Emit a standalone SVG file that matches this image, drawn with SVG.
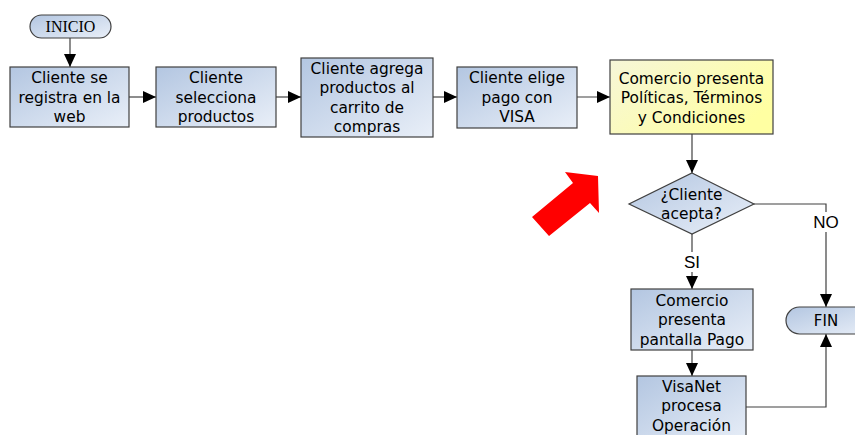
<svg xmlns="http://www.w3.org/2000/svg" width="855" height="435" viewBox="0 0 855 435">
<defs>
<linearGradient id="gb" x1="0" y1="0" x2="1" y2="1">
<stop offset="0" stop-color="#b3c6e1"/>
<stop offset="1" stop-color="#e9eff8"/>
</linearGradient>
<linearGradient id="gy" x1="0" y1="0" x2="1" y2="0.6">
<stop offset="0" stop-color="#f6f6d8"/>
<stop offset="1" stop-color="#ffffa2"/>
</linearGradient>
<marker id="ah" viewBox="0 0 13 12" refX="13" refY="6" markerWidth="13" markerHeight="12" markerUnits="userSpaceOnUse" orient="auto">
<path d="M0,0 L13,6 L0,12 Z" fill="#000"/>
</marker>
<style>
.box{fill:url(#gb);stroke:#404040;stroke-width:1.2}
.ybox{fill:url(#gy);stroke:#404040;stroke-width:1.2}
.t{font-family:"DejaVu Sans",Verdana,sans-serif;font-size:15.4px;fill:#000;text-anchor:middle}
.ts{font-family:"Liberation Serif","Times New Roman",serif;font-size:16px;fill:#000;text-anchor:middle}
.lbl{font-family:"Liberation Sans",Arial,sans-serif;font-size:17px;fill:#000;text-anchor:middle}
.c{fill:none;stroke:#404040;stroke-width:1.2}
.a{marker-end:url(#ah)}
</style>
</defs>
<rect width="855" height="435" fill="#fff"/>
<g id="connectors">
<path class="c a" d="M70,38 V67"/>
<path class="c a" d="M129,97 H156"/>
<path class="c a" d="M276,97 H301"/>
<path class="c a" d="M433,97 H457"/>
<path class="c a" d="M577,97 H610"/>
<path class="c a" d="M692,134 V173"/>
<path class="c a" d="M692,234 V289"/>
<path class="c a" d="M754,204 H826 V307"/>
<path class="c a" d="M692,350 V376"/>
<path class="c a" d="M746,407 H826 V334"/>
<rect x="682" y="252" width="22" height="20" fill="#fff"/>
<text class="lbl" x="692" y="268">SI</text>
<rect x="811" y="212" width="30" height="20" fill="#fff"/>
<text class="lbl" x="826" y="228">NO</text>
</g>
<g id="inicio">
<rect x="30" y="15" width="81" height="23" rx="11.5" class="box"/>
<text class="ts" x="70.5" y="32">INICIO</text>
</g>
<g id="n1">
<rect x="10" y="67" width="119" height="60" class="box"/>
<text class="t" x="69.5" y="83">Cliente se</text>
<text class="t" x="69.5" y="102.5">registra en la</text>
<text class="t" x="69.5" y="122">web</text>
</g>
<g id="n2">
<rect x="156" y="67" width="120" height="60" class="box"/>
<text class="t" x="216" y="83">Cliente</text>
<text class="t" x="216" y="102.5">selecciona</text>
<text class="t" x="216" y="122">productos</text>
</g>
<g id="n3">
<rect x="301" y="58" width="132" height="79" class="box"/>
<text class="t" x="367" y="73.5">Cliente agrega</text>
<text class="t" x="367" y="93">productos al</text>
<text class="t" x="367" y="112.5">carrito de</text>
<text class="t" x="367" y="132">compras</text>
</g>
<g id="n4">
<rect x="457" y="67" width="120" height="61" class="box"/>
<text class="t" x="517" y="83">Cliente elige</text>
<text class="t" x="517" y="102.5">pago con</text>
<text class="t" x="517" y="122">VISA</text>
</g>
<g id="n5">
<rect x="610" y="60" width="163" height="74" class="ybox"/>
<text class="t" x="691.5" y="83.5">Comercio presenta</text>
<text class="t" x="691.5" y="103">Políticas, Términos</text>
<text class="t" x="691.5" y="122.5">y Condiciones</text>
</g>
<g id="decision">
<path d="M692,173 L754,204 L692,234 L629,204 Z" class="box"/>
<text class="t" x="691.5" y="199.5">¿Cliente</text>
<text class="t" x="691.5" y="219">acepta?</text>
</g>
<g id="n6">
<rect x="631" y="289" width="122" height="61" class="box"/>
<text class="t" x="692" y="305.5">Comercio</text>
<text class="t" x="692" y="325">presenta</text>
<text class="t" x="692" y="344.5">pantalla Pago</text>
</g>
<g id="n7">
<rect x="637" y="376" width="109" height="70" class="box"/>
<text class="t" x="691.5" y="391.5">VisaNet</text>
<text class="t" x="691.5" y="411">procesa</text>
<text class="t" x="691.5" y="430.5">Operación</text>
</g>
<g id="fin">
<rect x="786" y="307" width="90" height="27" rx="13.5" class="box"/>
<text class="t" x="826" y="325.5" style="font-size:15px">FIN</text>
</g>
<g id="red-arrow">
<path d="M532,217 L573,183 L565,172 L598,176 L599,213 L590,203 L549,236 Z" fill="#ff0000"/>
</g>
</svg>
